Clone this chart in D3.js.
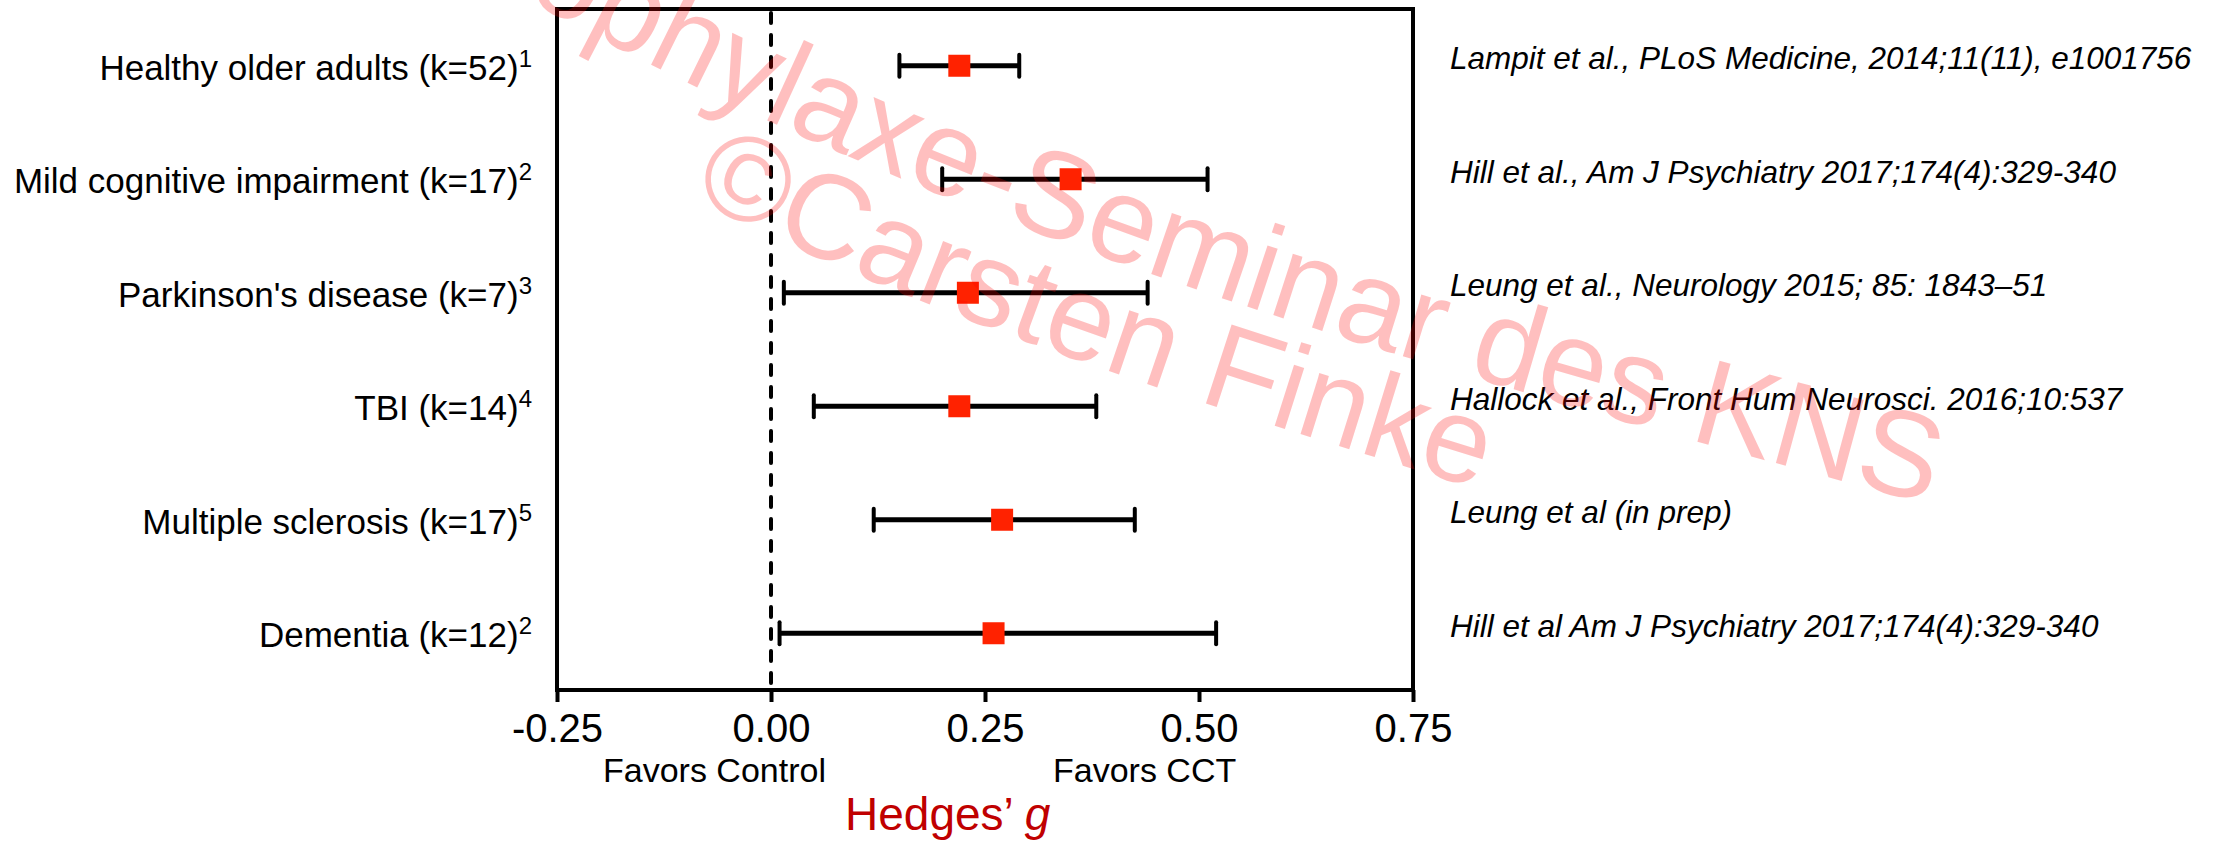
<!DOCTYPE html>
<html>
<head>
<meta charset="utf-8">
<script src="https://cdn.jsdelivr.net/npm/d3@7"></script>
<style>
  html, body { margin: 0; padding: 0; background: #ffffff; }
  svg { display: block; }
  text { font-family: "Liberation Sans", Arial, Helvetica, sans-serif; }
</style>
</head>
<body>
<div id="chart"></div>
<script>
// Meta-analytic effect sizes (Hedges' g) of computerised cognitive training
const categories = [
  "Healthy older adults (k=52)",
  "Mild cognitive impairment (k=17)",
  "Parkinson's disease (k=7)",
  "TBI (k=14)",
  "Multiple sclerosis (k=17)",
  "Dementia (k=12)"
];
const refMarks = ["1", "2", "3", "4", "5", "2"];
const effect = [0.22, 0.35, 0.23, 0.22, 0.27, 0.26];
const ciLow  = [0.15, 0.20, 0.015, 0.05, 0.12, 0.01];
const ciHigh = [0.29, 0.51, 0.44, 0.38, 0.425, 0.52];
const citations = [
  "Lampit et al., PLoS Medicine, 2014;11(11), e1001756",
  "Hill et al., Am J Psychiatry 2017;174(4):329-340",
  "Leung et al., Neurology 2015; 85: 1843\u201351",
  "Hallock et al., Front Hum Neurosci. 2016;10:537",
  "Leung et al (in prep)",
  "Hill et al Am J Psychiatry 2017;174(4):329-340"
];
const xTicks = [-0.25, 0, 0.25, 0.50, 0.75];
const xDomain = [-0.25, 0.75];
const sideLabels = ["Favors Control", "Favors CCT"];
const axisTitle = "Hedges\u2019 ";
const axisTitleItalic = "g";
const watermarkLines = ["Prophylaxe-Seminar des KNS", "\u00A9Carsten Finke"];

const W = 2231, H = 842;
const plot = { left: 557, right: 1413, top: 9, bottom: 690 };

const rows = categories.map((c, i) => ({
  cat: c, mark: refMarks[i], g: effect[i], lo: ciLow[i], hi: ciHigh[i], cite: citations[i]
}));

const svg = d3.select("#chart").append("svg")
  .attr("width", W).attr("height", H)
  .attr("viewBox", [0, 0, W, H]);

svg.append("rect").attr("width", W).attr("height", H).attr("fill", "#ffffff");

const x = d3.scaleLinear().domain(xDomain).range([plot.left, plot.right]);
const y = d3.scaleBand().domain(categories).range([plot.top, plot.bottom]).padding(0);
const cy = d => y(d.cat) + y.bandwidth() / 2;

// plot frame
svg.append("rect")
  .attr("x", plot.left).attr("y", plot.top)
  .attr("width", plot.right - plot.left).attr("height", plot.bottom - plot.top)
  .attr("fill", "none").attr("stroke", "#000").attr("stroke-width", 4);

// no-effect reference line
svg.append("line")
  .attr("x1", x(0)).attr("x2", x(0))
  .attr("y1", plot.top + 4).attr("y2", plot.bottom)
  .attr("stroke", "#000").attr("stroke-width", 4)
  .attr("stroke-linecap", "round")
  .attr("stroke-dasharray", "10,12");

// x axis
const xAxis = d3.axisBottom(x)
  .tickValues(xTicks)
  .tickSize(12)
  .tickSizeOuter(0)
  .tickPadding(12)
  .tickFormat(d => d.toFixed(2));

const gx = svg.append("g")
  .attr("transform", `translate(0,${plot.bottom})`)
  .call(xAxis);
gx.select(".domain").remove();
gx.selectAll(".tick line").attr("stroke", "#000").attr("stroke-width", 4);
gx.selectAll(".tick text")
  .attr("fill", "#000")
  .style("font-family", "'Liberation Sans', Arial, sans-serif")
  .style("font-size", "40px");

// CI whiskers
const bars = svg.append("g").selectAll("g").data(rows).join("g");
bars.append("line")
  .attr("x1", d => x(d.lo)).attr("x2", d => x(d.hi))
  .attr("y1", cy).attr("y2", cy)
  .attr("stroke", "#000").attr("stroke-width", 5);
bars.selectAll("line.cap")
  .data(d => [{ v: d.lo, c: cy(d) }, { v: d.hi, c: cy(d) }])
  .join("line").attr("class", "cap")
  .attr("x1", d => x(d.v)).attr("x2", d => x(d.v))
  .attr("y1", d => d.c - 11).attr("y2", d => d.c + 11)
  .attr("stroke", "#000").attr("stroke-width", 4)
  .attr("stroke-linecap", "round");

// point estimates
const sq = 22;
bars.append("rect")
  .attr("x", d => x(d.g) - sq / 2).attr("y", d => cy(d) - sq / 2)
  .attr("width", sq).attr("height", sq)
  .attr("fill", "#ff2200");

// row labels with reference superscripts
const lab = svg.append("g").selectAll("text").data(rows).join("text")
  .attr("x", 532).attr("y", d => cy(d) + 14)
  .attr("text-anchor", "end")
  .attr("fill", "#000")
  .style("font-size", "35px");
lab.append("tspan").text(d => d.cat);
lab.append("tspan").text(d => d.mark)
  .attr("dy", -13).style("font-size", "24px");

// citations
svg.append("g").selectAll("text").data(rows).join("text")
  .attr("x", 1450).attr("y", d => cy(d) + 3.5)
  .attr("fill", "#000")
  .style("font-size", "31.5px").style("font-style", "italic")
  .text(d => d.cite);

// direction labels under the axis
svg.append("text").attr("x", 603).attr("y", 782)
  .attr("fill", "#000").style("font-size", "34px").text(sideLabels[0]);
svg.append("text").attr("x", 1053).attr("y", 782)
  .attr("fill", "#000").style("font-size", "34px").text(sideLabels[1]);

// axis title
const title = svg.append("text").attr("x", 845).attr("y", 830)
  .attr("fill", "#c00000").style("font-size", "46px");
title.append("tspan").text(axisTitle);
title.append("tspan").text(axisTitleItalic).style("font-style", "italic");

// copyright watermark set along two gently curved baselines
const defs = svg.append("defs");
defs.append("path").attr("id", "wmPath1")
  .attr("d", "M416,-60 L586,31 C1006,254 1475,383 1935,506");
defs.append("path").attr("id", "wmPath2")
  .attr("d", "M690,197 C942,325 1214,408 1485,491");

const wm = svg.append("g").attr("fill", "#ff0000").attr("fill-opacity", 0.25);
wm.append("text").style("font-size", "122px")
  .append("textPath").attr("href", "#wmPath1").attr("startOffset", 0)
  .text(watermarkLines[0]);
wm.append("text").style("font-size", "121px")
  .append("textPath").attr("href", "#wmPath2").attr("startOffset", 0)
  .text(watermarkLines[1]);
</script>
</body>
</html>
